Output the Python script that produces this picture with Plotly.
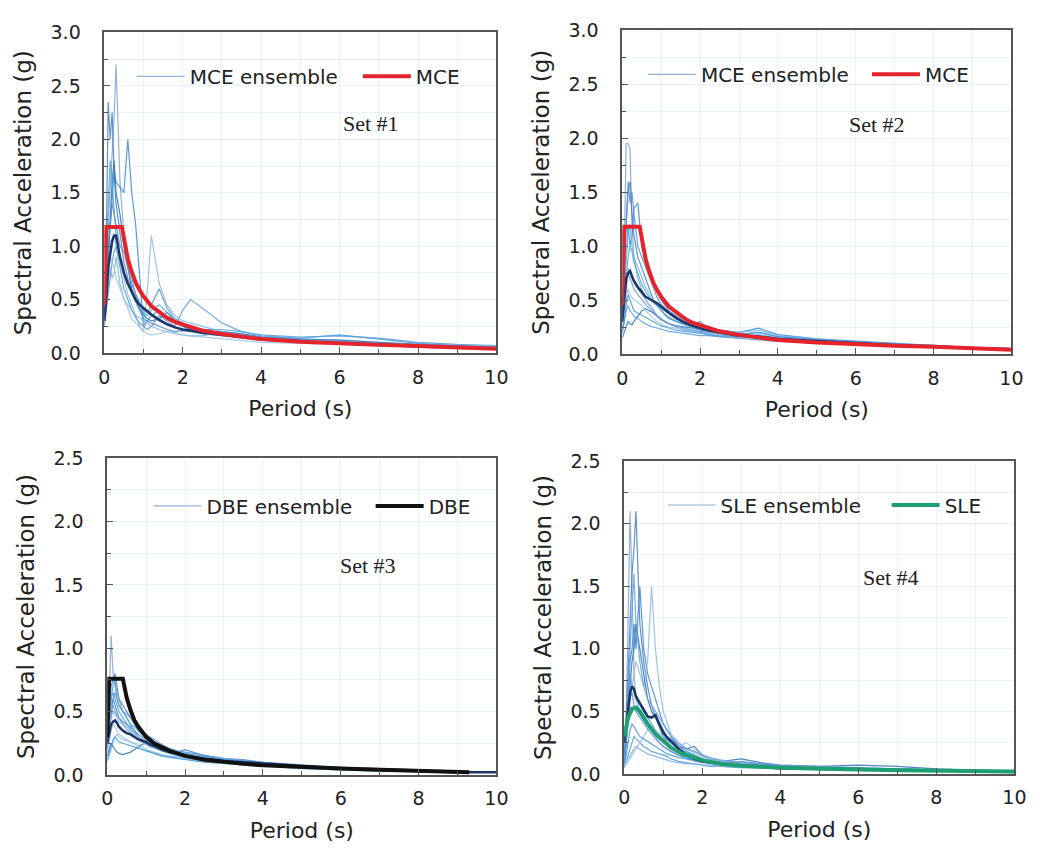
import plotly.graph_objects as go

# ---------------- data ----------------
T = [0.0, 0.05, 0.1, 0.15, 0.2, 0.25, 0.3, 0.4, 0.5, 0.6, 0.7, 0.8, 0.9, 1.0, 1.1, 1.2,
     1.4, 1.6, 1.8, 2.0, 2.2, 2.5, 3.0, 3.5, 4.0, 5.0, 6.0, 7.0, 8.0, 9.0, 10.0]

# Set #1 (MCE ensemble)
s1_1 = [0.30,0.60,1.20,1.50,1.90,2.20,2.70,1.60,1.10,0.90,0.70,0.55,0.48,0.42,0.38,0.35,0.30,0.26,0.24,0.22,0.21,0.19,0.17,0.15,0.13,0.11,0.09,0.08,0.07,0.05,0.04]
s1_2 = [0.35,1.00,2.35,2.00,2.25,1.70,1.40,1.10,0.85,0.70,0.58,0.48,0.40,0.32,0.30,0.28,0.25,0.22,0.20,0.21,0.20,0.18,0.16,0.14,0.12,0.10,0.09,0.08,0.06,0.05,0.04]
s1_3 = [0.30,0.50,0.90,1.20,1.50,1.70,1.60,1.55,1.50,2.00,1.50,1.20,0.70,0.25,0.30,0.35,0.40,0.33,0.28,0.25,0.22,0.20,0.18,0.16,0.14,0.12,0.10,0.09,0.07,0.06,0.05]
s1_4 = [0.28,0.45,0.70,0.90,1.00,1.10,1.00,0.85,0.70,0.55,0.45,0.35,0.25,0.20,0.60,1.10,0.65,0.45,0.35,0.30,0.28,0.25,0.20,0.18,0.15,0.13,0.12,0.10,0.08,0.07,0.06]
s1_5 = [0.25,0.40,0.60,0.75,0.85,0.95,1.00,0.80,0.60,0.50,0.40,0.33,0.28,0.25,0.22,0.25,0.35,0.30,0.25,0.40,0.50,0.42,0.28,0.20,0.17,0.15,0.16,0.14,0.10,0.08,0.07]
s1_6 = [0.30,0.55,0.90,1.30,1.60,1.80,1.50,1.30,1.00,0.80,0.60,0.50,0.42,0.36,0.32,0.30,0.32,0.38,0.30,0.25,0.22,0.20,0.20,0.18,0.15,0.13,0.12,0.10,0.08,0.06,0.05]
s1_7 = [0.25,0.40,0.65,0.80,0.70,0.75,0.90,0.65,0.50,0.45,0.40,0.35,0.33,0.30,0.28,0.25,0.22,0.20,0.18,0.17,0.16,0.16,0.20,0.15,0.13,0.10,0.09,0.08,0.07,0.05,0.04]
s1_8 = [0.30,0.70,1.40,1.80,1.60,1.30,1.10,0.90,0.75,0.65,0.55,0.48,0.42,0.38,0.35,0.40,0.45,0.38,0.30,0.26,0.24,0.22,0.22,0.20,0.16,0.14,0.17,0.13,0.09,0.07,0.06]
s1_9 = [0.28,0.50,0.80,0.90,0.85,0.80,0.70,0.60,0.50,0.40,0.32,0.28,0.24,0.20,0.18,0.17,0.18,0.20,0.19,0.17,0.16,0.15,0.14,0.12,0.10,0.09,0.08,0.07,0.06,0.05,0.04]
s1_10 = [0.32,0.60,1.00,1.20,1.40,1.30,1.20,1.00,0.95,0.80,0.65,0.55,0.45,0.40,0.38,0.45,0.60,0.42,0.32,0.28,0.24,0.22,0.18,0.17,0.15,0.13,0.11,0.09,0.08,0.07,0.05]
mean1 = [0.30,0.50,0.80,0.95,1.05,1.10,1.10,0.90,0.75,0.65,0.57,0.50,0.45,0.42,0.39,0.36,0.31,0.27,0.24,0.22,0.21,0.19,0.17,0.15,0.13,0.11,0.09,0.08,0.06,0.05,0.04]

# Set #2 (MCE ensemble)
s2_1 = [0.40,0.90,1.95,1.95,1.90,1.20,0.90,0.70,0.60,0.50,0.45,0.40,0.35,0.32,0.30,0.28,0.25,0.22,0.22,0.20,0.18,0.16,0.15,0.18,0.15,0.12,0.10,0.09,0.07,0.06,0.05]
s2_2 = [0.35,0.80,1.20,1.50,1.60,1.30,1.10,0.90,0.80,0.70,0.60,0.50,0.45,0.40,0.36,0.33,0.30,0.28,0.26,0.30,0.24,0.22,0.18,0.20,0.16,0.13,0.11,0.09,0.07,0.06,0.05]
s2_3 = [0.30,0.60,1.00,1.20,1.00,1.10,1.35,1.40,1.00,0.85,0.75,0.65,0.58,0.50,0.45,0.40,0.35,0.30,0.28,0.26,0.24,0.22,0.20,0.24,0.18,0.14,0.12,0.10,0.08,0.06,0.05]
s2_4 = [0.25,0.40,0.60,0.80,0.75,0.70,0.65,0.60,0.55,0.50,0.45,0.40,0.36,0.33,0.30,0.28,0.25,0.23,0.22,0.20,0.20,0.19,0.17,0.15,0.14,0.12,0.10,0.09,0.07,0.06,0.05]
s2_5 = [0.20,0.30,0.40,0.45,0.40,0.38,0.35,0.33,0.30,0.28,0.26,0.25,0.24,0.23,0.22,0.21,0.20,0.19,0.18,0.17,0.17,0.16,0.14,0.13,0.12,0.10,0.09,0.08,0.07,0.05,0.04]
s2_6 = [0.15,0.20,0.25,0.30,0.28,0.27,0.30,0.35,0.40,0.42,0.40,0.38,0.35,0.32,0.30,0.28,0.26,0.25,0.24,0.22,0.21,0.20,0.18,0.16,0.14,0.12,0.10,0.09,0.07,0.06,0.05]
s2_7 = [0.30,0.55,0.90,1.10,1.20,1.00,0.90,0.80,0.70,0.62,0.55,0.50,0.45,0.42,0.40,0.38,0.32,0.30,0.28,0.27,0.25,0.22,0.20,0.22,0.17,0.14,0.11,0.09,0.08,0.06,0.05]
s2_8 = [0.35,0.50,0.70,0.90,1.00,0.95,0.85,0.75,0.65,0.58,0.52,0.48,0.44,0.40,0.37,0.34,0.30,0.27,0.25,0.23,0.22,0.20,0.18,0.20,0.16,0.13,0.11,0.09,0.08,0.06,0.05]
s2_9 = [0.25,0.35,0.50,0.60,0.55,0.52,0.50,0.48,0.45,0.40,0.36,0.33,0.30,0.28,0.26,0.25,0.24,0.22,0.21,0.20,0.19,0.18,0.16,0.15,0.13,0.11,0.10,0.08,0.07,0.06,0.05]
s2_10 = [0.40,0.70,1.20,1.60,1.40,1.50,1.30,1.00,0.90,0.80,0.70,0.60,0.52,0.46,0.42,0.38,0.33,0.30,0.28,0.26,0.24,0.22,0.19,0.17,0.15,0.13,0.11,0.09,0.07,0.06,0.05]
s2_11 = [0.20,0.30,0.45,0.55,0.50,0.45,0.40,0.38,0.36,0.34,0.32,0.30,0.28,0.26,0.25,0.24,0.22,0.21,0.20,0.19,0.18,0.17,0.16,0.17,0.14,0.12,0.10,0.09,0.07,0.06,0.04]
s2_12 = [0.30,0.45,0.65,0.75,0.70,0.65,0.60,0.55,0.50,0.46,0.42,0.38,0.35,0.32,0.30,0.28,0.26,0.24,0.22,0.21,0.20,0.19,0.17,0.16,0.14,0.12,0.10,0.08,0.07,0.06,0.05]
mean2 = [0.30,0.50,0.70,0.75,0.77,0.72,0.68,0.62,0.57,0.53,0.51,0.49,0.47,0.44,0.41,0.38,0.33,0.29,0.26,0.24,0.22,0.20,0.17,0.16,0.14,0.12,0.10,0.08,0.07,0.05,0.04]

# Set #3 (DBE ensemble)
s3_1 = [0.30,0.60,1.10,0.80,0.70,0.60,0.55,0.50,0.45,0.40,0.35,0.30,0.27,0.25,0.23,0.22,0.20,0.18,0.17,0.16,0.15,0.14,0.12,0.11,0.09,0.07,0.05,0.04,0.03,0.03,0.02]
s3_2 = [0.25,0.45,0.70,0.75,0.80,0.70,0.60,0.55,0.50,0.45,0.40,0.35,0.32,0.30,0.28,0.26,0.22,0.20,0.18,0.16,0.15,0.13,0.11,0.10,0.08,0.06,0.05,0.04,0.03,0.02,0.02]
s3_3 = [0.20,0.35,0.50,0.60,0.55,0.50,0.45,0.42,0.40,0.38,0.35,0.32,0.30,0.28,0.26,0.24,0.21,0.19,0.18,0.20,0.18,0.15,0.12,0.11,0.10,0.07,0.05,0.04,0.03,0.02,0.02]
s3_4 = [0.10,0.15,0.20,0.25,0.30,0.32,0.30,0.28,0.27,0.26,0.25,0.24,0.22,0.20,0.19,0.18,0.16,0.15,0.14,0.13,0.12,0.11,0.10,0.09,0.08,0.06,0.05,0.04,0.03,0.02,0.02]
s3_5 = [0.30,0.50,0.60,0.65,0.60,0.55,0.50,0.45,0.40,0.36,0.33,0.30,0.28,0.26,0.24,0.22,0.20,0.18,0.16,0.15,0.14,0.13,0.12,0.10,0.09,0.07,0.05,0.04,0.03,0.02,0.02]
s3_6 = [0.15,0.20,0.25,0.22,0.20,0.18,0.17,0.16,0.17,0.18,0.20,0.22,0.24,0.25,0.24,0.22,0.20,0.18,0.16,0.15,0.14,0.13,0.11,0.10,0.09,0.07,0.05,0.04,0.03,0.02,0.02]
s3_7 = [0.25,0.40,0.45,0.50,0.48,0.45,0.42,0.40,0.38,0.35,0.32,0.30,0.28,0.26,0.24,0.22,0.19,0.17,0.15,0.14,0.13,0.12,0.10,0.09,0.08,0.06,0.05,0.04,0.03,0.02,0.02]
s3_8 = [0.28,0.45,0.60,0.70,0.75,0.65,0.60,0.50,0.45,0.40,0.38,0.35,0.32,0.30,0.27,0.25,0.22,0.20,0.18,0.17,0.16,0.14,0.12,0.11,0.10,0.07,0.06,0.05,0.04,0.03,0.02]
s3_9 = [0.18,0.25,0.35,0.40,0.38,0.35,0.32,0.30,0.28,0.26,0.24,0.22,0.20,0.19,0.18,0.17,0.15,0.14,0.13,0.12,0.11,0.10,0.09,0.08,0.07,0.06,0.04,0.03,0.03,0.02,0.02]
s3_10 = [0.30,0.45,0.55,0.60,0.65,0.60,0.55,0.50,0.48,0.45,0.42,0.38,0.35,0.32,0.30,0.28,0.24,0.21,0.19,0.18,0.17,0.15,0.13,0.12,0.10,0.08,0.06,0.05,0.04,0.03,0.02]
s3_11 = [0.12,0.18,0.22,0.28,0.30,0.28,0.26,0.25,0.24,0.23,0.22,0.21,0.20,0.19,0.18,0.17,0.15,0.14,0.13,0.12,0.11,0.10,0.09,0.08,0.07,0.05,0.04,0.03,0.03,0.02,0.02]
s3_12 = [0.22,0.35,0.50,0.55,0.50,0.47,0.45,0.40,0.36,0.33,0.30,0.28,0.26,0.24,0.22,0.21,0.19,0.17,0.16,0.15,0.14,0.12,0.11,0.10,0.09,0.07,0.05,0.04,0.03,0.02,0.02]
mean3 = [0.25,0.33,0.40,0.42,0.43,0.41,0.38,0.35,0.33,0.32,0.30,0.28,0.27,0.26,0.24,0.23,0.20,0.18,0.17,0.15,0.14,0.13,0.11,0.10,0.09,0.07,0.05,0.04,0.03,0.02,0.02]

# Set #4 (SLE ensemble)
s4_1 = [0.10,0.50,1.20,2.10,1.50,0.80,0.60,0.50,0.45,0.40,0.35,0.30,0.25,0.22,0.20,0.18,0.15,0.12,0.10,0.09,0.08,0.07,0.06,0.05,0.04,0.04,0.03,0.03,0.02,0.02,0.01]
s4_2 = [0.15,0.40,0.80,1.20,1.60,1.80,2.10,1.20,0.90,0.70,0.55,0.45,0.38,0.30,0.25,0.20,0.17,0.15,0.12,0.10,0.09,0.08,0.07,0.06,0.05,0.04,0.04,0.03,0.03,0.02,0.02]
s4_3 = [0.10,0.30,0.60,0.90,1.00,1.20,1.00,1.50,1.00,0.80,0.70,0.60,0.50,0.40,0.35,0.30,0.22,0.18,0.15,0.12,0.10,0.09,0.08,0.07,0.06,0.05,0.04,0.04,0.03,0.02,0.02]
s4_4 = [0.08,0.20,0.40,0.60,0.70,0.80,0.90,0.80,0.70,0.90,1.50,1.00,0.70,0.50,0.40,0.32,0.25,0.20,0.17,0.14,0.12,0.10,0.09,0.08,0.06,0.05,0.05,0.04,0.03,0.02,0.02]
s4_5 = [0.05,0.10,0.15,0.20,0.25,0.30,0.28,0.25,0.22,0.20,0.18,0.17,0.16,0.15,0.14,0.12,0.10,0.09,0.08,0.07,0.06,0.06,0.05,0.05,0.04,0.04,0.03,0.03,0.02,0.02,0.02]
s4_6 = [0.10,0.25,0.50,0.70,0.90,1.00,1.20,1.00,0.80,0.60,0.50,0.45,0.40,0.35,0.30,0.28,0.22,0.20,0.22,0.15,0.12,0.10,0.12,0.09,0.07,0.06,0.07,0.06,0.04,0.03,0.02]
s4_7 = [0.06,0.10,0.12,0.15,0.18,0.20,0.22,0.20,0.18,0.16,0.15,0.14,0.13,0.12,0.11,0.10,0.09,0.08,0.08,0.07,0.07,0.06,0.05,0.05,0.04,0.04,0.03,0.03,0.02,0.02,0.01]
s4_8 = [0.12,0.30,0.60,0.80,0.70,0.65,0.60,0.55,0.50,0.45,0.40,0.35,0.32,0.30,0.27,0.24,0.20,0.17,0.14,0.12,0.10,0.09,0.08,0.07,0.06,0.05,0.04,0.04,0.03,0.02,0.02]
s4_9 = [0.05,0.08,0.10,0.12,0.15,0.17,0.20,0.25,0.30,0.35,0.38,0.35,0.32,0.30,0.28,0.26,0.22,0.25,0.20,0.15,0.12,0.10,0.08,0.07,0.06,0.05,0.04,0.04,0.03,0.02,0.02]
s4_10 = [0.10,0.25,0.45,0.60,0.65,0.55,0.50,0.45,0.40,0.36,0.32,0.28,0.25,0.22,0.20,0.18,0.15,0.13,0.11,0.10,0.09,0.08,0.10,0.08,0.06,0.05,0.04,0.04,0.03,0.02,0.02]
s4_11 = [0.08,0.15,0.25,0.35,0.40,0.38,0.35,0.30,0.28,0.26,0.24,0.22,0.20,0.18,0.16,0.15,0.13,0.12,0.11,0.10,0.09,0.08,0.07,0.06,0.05,0.05,0.04,0.04,0.03,0.02,0.02]
s4_12 = [0.10,0.30,0.70,1.00,1.40,1.60,1.20,0.90,0.70,0.60,0.55,0.50,0.45,0.40,0.35,0.30,0.24,0.20,0.18,0.15,0.13,0.11,0.09,0.08,0.07,0.06,0.05,0.04,0.03,0.02,0.02]
mean4 = [0.25,0.38,0.55,0.65,0.70,0.68,0.62,0.57,0.52,0.46,0.45,0.47,0.40,0.33,0.29,0.26,0.20,0.15,0.12,0.10,0.09,0.08,0.07,0.06,0.05,0.04,0.04,0.03,0.03,0.02,0.02]

# Target spectra
T_mce = [0.0, 0.05, 0.45, 0.5, 0.6, 0.7, 0.8, 0.9, 1.0, 1.2, 1.4, 1.6, 1.8, 2.0, 2.5, 3.0, 3.5, 4.0, 5.0, 6.0, 7.0, 8.0, 9.0, 10.0]
mce = [0.45, 1.18, 1.18, 1.06, 0.88, 0.76, 0.66, 0.59, 0.53, 0.44, 0.38, 0.33, 0.29, 0.265, 0.21, 0.177, 0.15, 0.13, 0.106, 0.088, 0.076, 0.066, 0.05, 0.04]
T_dbe = [0.0, 0.05, 0.40, 0.5, 0.6, 0.7, 0.8, 0.9, 1.0, 1.2, 1.4, 1.6, 1.8, 2.0, 2.5, 3.0, 3.5, 4.0, 5.0, 6.0, 7.0, 8.0, 9.3]
dbe = [0.30, 0.76, 0.76, 0.61, 0.51, 0.43, 0.38, 0.34, 0.30, 0.25, 0.22, 0.19, 0.17, 0.15, 0.12, 0.10, 0.087, 0.076, 0.061, 0.05, 0.04, 0.03, 0.02]
T_sle = [0.0, 0.1, 0.2, 0.3, 0.4, 0.5, 0.6, 0.8, 1.0, 1.2, 1.5, 2.0, 2.5, 3.0, 4.0, 5.0, 6.0, 7.0, 8.0, 10.0]
sle = [0.30, 0.45, 0.52, 0.53, 0.50, 0.45, 0.40, 0.32, 0.26, 0.21, 0.16, 0.11, 0.08, 0.065, 0.05, 0.04, 0.035, 0.03, 0.025, 0.02]

set1 = [s1_1, s1_2, s1_3, s1_4, s1_5, s1_6, s1_7, s1_8, s1_9, s1_10]
set2 = [s2_1, s2_2, s2_3, s2_4, s2_5, s2_6, s2_7, s2_8, s2_9, s2_10, s2_11, s2_12]
set3 = [s3_1, s3_2, s3_3, s3_4, s3_5, s3_6, s3_7, s3_8, s3_9, s3_10, s3_11, s3_12]
set4 = [s4_1, s4_2, s4_3, s4_4, s4_5, s4_6, s4_7, s4_8, s4_9, s4_10, s4_11, s4_12]

# ---------------- layout helpers ----------------
W, H = 1049, 858
ENS_COLORS = ['#7fa6d0', '#4a7fc1', '#3b8ad9', '#8fb8e6', '#5b9bd5', '#2f75b5',
              '#7cb2e8', '#4da3e0', '#9cc3e8', '#5a8fd6', '#3f9ad8', '#6c9ed8']
MEAN_COLOR = '#1b3566'
SANS = 'DejaVu Sans'
GRID = 'rgba(190,215,240,0.3)'

panels = [
    dict(ens=set1, mean=mean1, tx=T_mce, ty=mce, tcol='#e5232b', ename='MCE ensemble', tname='MCE',
         xpx=(100, 499), ypx=(22, 351), ymax=3.0, label='Set #1', lpos=(6.8, 2.15),
         leg1=(133, 67), leg2=(363, 67)),
    dict(ens=set2, mean=mean2, tx=T_mce, ty=mce, tcol='#e5232b', ename='MCE ensemble', tname='MCE',
         xpx=(627, 1023), ypx=(20, 352), ymax=3.0, label='Set #2', lpos=(6.55, 2.13),
         leg1=(653, 65), leg2=(881, 65)),
    dict(ens=set3, mean=mean3, tx=T_dbe, ty=dbe, tcol='#111111', ename='DBE ensemble', tname='DBE',
         xpx=(103, 499), ypx=(459, 784), ymax=2.5, label='Set #3', lpos=(6.7, 1.65),
         leg1=(150, 508), leg2=(376, 508)),
    dict(ens=set4, mean=mean4, tx=T_sle, ty=sle, tcol='#1e9f72', ename='SLE ensemble', tname='SLE',
         xpx=(629, 1026), ypx=(462, 783), ymax=2.5, label='Set #4', lpos=(6.83, 1.57),
         leg1=(673, 507), leg2=(901, 507)),
]

fig = go.Figure()
layout = dict(width=W, height=H, margin=dict(l=0, r=0, t=0, b=0),
              paper_bgcolor='white', plot_bgcolor='white',
              font=dict(family=SANS, size=19, color='#222'))
annotations = []

for i, p in enumerate(panels):
    k = i + 1
    xa = 'x' if k == 1 else f'x{k}'
    ya = 'y' if k == 1 else f'y{k}'
    lg_a = 'legend' if k == 1 else f'legend{2*k-1}'
    lg_b = f'legend{2*k}'
    for j, ys in enumerate(p['ens']):
        fig.add_trace(go.Scatter(x=T, y=ys, mode='lines', xaxis=xa, yaxis=ya,
                                 line=dict(color=ENS_COLORS[j % len(ENS_COLORS)], width=1.2),
                                 opacity=0.85, name=p['ename'], legend=lg_a,
                                 showlegend=(j == 0), hoverinfo='skip'))
    fig.add_trace(go.Scatter(x=T, y=p['mean'], mode='lines', xaxis=xa, yaxis=ya,
                             line=dict(color=MEAN_COLOR, width=2.5), showlegend=False,
                             name='mean'))
    fig.add_trace(go.Scatter(x=p['tx'], y=p['ty'], mode='lines', xaxis=xa, yaxis=ya,
                             line=dict(color=p['tcol'], width=4), name=p['tname'],
                             legend=lg_b, showlegend=True))

    x0, x1 = p['xpx']
    y0, y1 = p['ypx']
    axis_common = dict(showline=True, mirror=True, linecolor='#555', linewidth=1.5,
                       ticks='inside', ticklen=6, tickcolor='#555', tickwidth=1.2,
                       showgrid=True, gridcolor=GRID, gridwidth=1,
                       zeroline=False, tickfont=dict(family=SANS, size=19, color='#222'))
    layout[f'xaxis{"" if k == 1 else k}'] = dict(
        axis_common, domain=[x0 / W, x1 / W], anchor=ya, range=[0, 10], dtick=2, tick0=0,
        minor=dict(dtick=1, ticks='inside', ticklen=4, tickcolor='#555', showgrid=True,
                   gridcolor=GRID),
        title=dict(text='Period (s)', font=dict(family=SANS, size=22, color='#222'), standoff=14),
        ticklabelstandoff=6)
    layout[f'yaxis{"" if k == 1 else k}'] = dict(
        axis_common, domain=[1 - y1 / H, 1 - y0 / H], anchor=xa, range=[0, p['ymax']],
        dtick=0.5, tick0=0, tickformat='.1f',
        minor=dict(dtick=0.25, ticks='inside', ticklen=4, tickcolor='#555', showgrid=True,
                   gridcolor=GRID),
        title=dict(text='Spectral Acceleration (g)', font=dict(family=SANS, size=23, color='#222'),
                   standoff=12),
        ticklabelstandoff=18)
    lfont = dict(family=SANS, size=20, color='#222')
    layout[lg_a] = dict(x=(p['leg1'][0] - 5) / W, y=1 - p['leg1'][1] / H, xanchor='left',
                        yanchor='middle', bgcolor='rgba(0,0,0,0)', font=lfont,
                        itemwidth=48, orientation='h')
    layout[lg_b] = dict(x=(p['leg2'][0] - 5) / W, y=1 - p['leg2'][1] / H, xanchor='left',
                        yanchor='middle', bgcolor='rgba(0,0,0,0)', font=lfont,
                        itemwidth=48, orientation='h')
    annotations.append(dict(x=p['lpos'][0], y=p['lpos'][1], xref=xa, yref=ya, text=p['label'],
                            showarrow=False, font=dict(family='Liberation Serif', size=22,
                                                       color='#222')))

layout['annotations'] = annotations
fig.update_layout(**layout)
fig.write_html('out.html')
